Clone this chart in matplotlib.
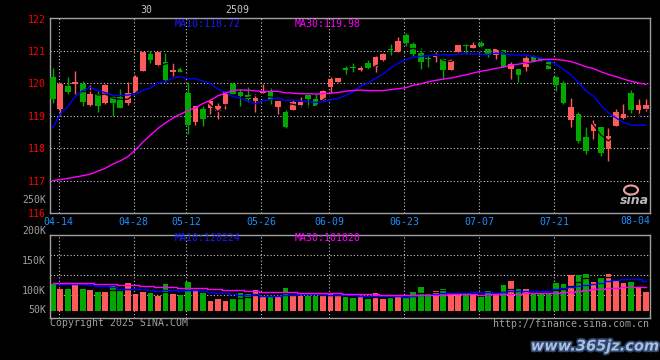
import numpy as np
import pandas as pd
import matplotlib
matplotlib.use("Agg")
import matplotlib.pyplot as plt
import matplotlib.patheffects as pe
from matplotlib.patches import Ellipse

# trading days shown on the chart
dates = (
    ["04-11", "04-14", "04-15", "04-16", "04-17", "04-18", "04-21", "04-22",
     "04-23", "04-24", "04-25", "04-28", "04-29", "04-30"]
    + ["05-06", "05-07", "05-08", "05-09", "05-12", "05-13", "05-14", "05-15",
       "05-16", "05-19", "05-20", "05-21", "05-22", "05-23", "05-26", "05-27",
       "05-28", "05-29", "05-30"]
    + ["06-03", "06-04", "06-05", "06-06", "06-09", "06-10", "06-11", "06-12",
       "06-13", "06-16", "06-17", "06-18", "06-19", "06-20", "06-23", "06-24",
       "06-25", "06-26", "06-27", "06-30"]
    + ["07-01", "07-02", "07-03", "07-04", "07-07", "07-08", "07-09", "07-10",
       "07-11", "07-14", "07-15", "07-16", "07-17", "07-18", "07-21", "07-22",
       "07-23", "07-24", "07-25", "07-28", "07-29", "07-30", "07-31"]
    + ["08-01", "08-04", "08-05", "08-06"]
)

opens = [120.21, 119.20, 119.91, 119.97, 119.99, 119.32, 119.68, 119.39, 119.58, 119.58,
         119.39, 119.71, 120.37, 120.90, 120.58, 120.67, 120.34, 120.45, 119.70, 118.81,
         119.22, 119.25, 119.14, 119.35, 119.99, 119.73, 119.63, 119.46, 119.70, 119.78,
         119.27, 119.12, 119.17, 119.32, 119.63, 119.53, 119.48, 119.88, 120.04, 120.47,
         120.51, 120.43, 120.64, 120.51, 120.73, 121.06, 120.97, 121.50, 121.22, 120.94,
         120.78, 120.83, 120.74, 120.43, 120.97, 121.18, 121.09, 121.25, 121.05, 120.88,
         121.02, 120.45, 120.45, 120.50, 120.82, 120.77, 120.66, 120.21, 120.01, 118.87,
         119.07, 118.35, 118.53, 118.66, 117.98, 118.69, 118.92, 119.70, 119.17, 119.20]
highs = [120.48, 120.00, 120.21, 120.37, 120.06, 119.94, 119.78, 119.99, 119.60, 119.83,
         120.04, 120.27, 120.98, 121.00, 120.98, 120.95, 120.62, 120.55, 120.04, 119.29,
         119.29, 119.53, 119.39, 119.78, 120.04, 119.83, 119.88, 119.68, 119.99, 119.85,
         119.46, 119.17, 119.48, 119.58, 119.68, 119.68, 119.80, 120.21, 120.17, 120.53,
         120.64, 120.54, 120.71, 120.84, 120.94, 121.22, 121.42, 121.55, 121.29, 121.09,
         120.86, 120.98, 120.76, 120.76, 121.19, 121.22, 121.29, 121.32, 121.06, 121.10,
         121.04, 120.65, 120.46, 120.85, 120.87, 120.82, 120.70, 120.24, 120.09, 119.55,
         119.12, 118.66, 118.87, 118.66, 118.61, 119.20, 119.38, 119.81, 119.51, 119.51]
lows = [119.39, 119.02, 119.68, 119.68, 119.29, 119.29, 119.12, 119.35, 118.99, 119.24,
        119.32, 119.71, 120.37, 120.62, 120.50, 120.04, 120.24, 120.34, 118.43, 118.71,
        118.68, 119.07, 118.89, 119.22, 119.68, 119.29, 119.43, 119.12, 119.70, 119.35,
        119.07, 118.61, 119.17, 119.27, 119.27, 119.29, 119.47, 119.70, 120.03, 120.29,
        120.35, 120.35, 120.46, 120.35, 120.68, 120.88, 120.96, 121.17, 120.86, 120.46,
        120.51, 120.66, 120.15, 120.42, 120.96, 120.91, 121.08, 121.14, 120.81, 120.74,
        120.50, 120.14, 120.04, 120.39, 120.65, 120.68, 120.44, 119.78, 119.35, 118.66,
        118.15, 117.82, 118.28, 117.77, 117.61, 118.68, 118.91, 119.10, 119.04, 119.14]
closes = [119.53, 119.97, 119.75, 120.04, 119.43, 119.68, 119.29, 119.94, 119.39, 119.24,
          119.70, 120.19, 120.98, 120.73, 120.98, 120.12, 120.43, 120.36, 118.71, 119.29,
          118.89, 119.45, 119.29, 119.73, 119.68, 119.60, 119.53, 119.56, 119.75, 119.48,
          119.46, 118.66, 119.43, 119.43, 119.53, 119.29, 119.78, 120.14, 120.16, 120.43,
          120.48, 120.48, 120.49, 120.81, 120.91, 121.04, 121.30, 121.24, 120.91, 120.66,
          120.75, 120.86, 120.40, 120.71, 121.19, 121.16, 121.19, 121.15, 120.88, 121.07,
          120.51, 120.60, 120.27, 120.77, 120.67, 120.71, 120.45, 119.96, 119.41, 119.27,
          118.22, 117.92, 118.76, 117.85, 118.39, 119.12, 119.05, 119.19, 119.32, 119.32]

# volume, in thousands
volumes = [117, 95, 95, 110, 95, 90, 82, 82, 108, 86,
           120, 73, 82, 77, 66, 116, 73, 70, 125, 90,
           79, 43, 52, 43, 56, 77, 73, 90, 63, 65,
           65, 99, 74, 65, 66, 66, 66, 77, 66, 60,
           57, 59, 52, 77, 52, 68, 68, 59, 82, 103,
           77, 86, 95, 77, 73, 73, 73, 60, 86, 77,
           112, 129, 95, 95, 77, 73, 77, 120, 116, 155,
           155, 159, 125, 142, 159, 133, 120, 125, 103, 82]

# moving averages before the window fills (they use older data)
ma10_head = [118.63, 119.06, 119.28, 119.60, 119.78, 119.88, 119.78, 119.72, 119.63]
ma30_head = [117.00, 117.03, 117.07, 117.11, 117.15, 117.20, 117.29, 117.38, 117.51, 117.61,
             117.74, 117.94, 118.19, 118.40, 118.61, 118.78, 118.93, 119.05, 119.16, 119.25,
             119.38, 119.48, 119.62, 119.70, 119.78, 119.80, 119.79, 119.77, 119.75]
vma10_head = [122, 116, 116, 116, 116, 110.5, 106, 106, 102]
vma30_head = [120, 120, 120, 120, 120, 120, 115, 115, 115, 110.5,
              110.5, 110.5, 106, 106, 102, 102, 102, 99, 99, 99,
              99, 93, 93, 89, 89, 89, 85, 85, 80]

grid_dates = ["04-14", "04-28", "05-12", "05-26", "06-09", "06-23", "07-07", "07-21"]
last_label = "08-04"

RED = "#ff5a5a"
GREEN = "#00a800"
GRAY = "#a0a0a0"
DATE_BLUE = "#1e8fff"

plt.rcParams["font.family"] = ["DejaVu Sans Mono"]
plt.rcParams["font.size"] = 7.1

W, H = 660, 360


def rolled(values, n, head):
    s = pd.Series(values, dtype=float).rolling(n).mean()
    s.iloc[: n - 1] = head
    return s.values


x = np.arange(len(dates))
o = np.array(opens)
c = np.array(closes)
up = c >= o
colors = np.where(up, RED, GREEN)
gx = [dates.index(d) for d in grid_dates]
xlim = (-0.36, len(dates) - 0.47)

fig = plt.figure(figsize=(W / 100, H / 100), dpi=100, facecolor="black")
ax = fig.add_axes([50 / W, 1 - 213 / H, 600 / W, 195 / H], facecolor="black")
axv = fig.add_axes([50 / W, 1 - 318 / H, 600 / W, 83 / H], facecolor="black")

# price panel
for yv in range(117, 122):
    ax.axhline(yv, color="#c8c8c8", lw=0.8, ls=(0, (1, 2)), zorder=0)
for g in gx:
    ax.axvline(g - 0.2, color="#c8c8c8", lw=0.8, ls=(0, (1, 2)), zorder=0)

ax.vlines(x, lows, highs, colors=colors, lw=1, zorder=2)
ax.bar(x, np.maximum(np.abs(c - o), 0.03), bottom=np.minimum(o, c), width=0.75,
       color=colors, lw=0, zorder=3)

ax.plot(x, pd.Series(closes).rolling(5).mean(), color="black", lw=0.9, zorder=4)
ax.plot(x, rolled(closes, 10, ma10_head), color="#0000ff", lw=1, zorder=5)
ax.plot(x, rolled(closes, 30, ma30_head), color="#ff00ff", lw=1, zorder=5)

ax.set_xlim(*xlim)
ax.set_ylim(116, 122.02)
ax.set_yticks(range(116, 123))
ax.set_yticklabels([str(v) for v in range(116, 123)], color="#ff0000")
ax.set_xticks([g - 0.2 for g in gx])
ax.set_xticklabels(grid_dates, color=DATE_BLUE)
ax.tick_params(length=0, pad=3)
ax.text(1.0, -0.016, last_label, color=DATE_BLUE, ha="right", va="top",
        transform=ax.transAxes)
for sp in ax.spines.values():
    sp.set_color(GRAY)
    sp.set_linewidth(1)

# volume panel
vol_per_px = 4.3
for yy in (255, 275, 295):
    axv.axhline((311 - yy) * vol_per_px, color="#c8c8c8", lw=0.8, ls=(0, (1, 2)), zorder=0)
for g in gx:
    axv.axvline(g - 0.2, color="#c8c8c8", lw=0.8, ls=(0, (1, 2)), zorder=0)
axv.bar(x, volumes, width=0.75, color=colors, lw=0, zorder=2)
axv.plot(x, pd.Series(volumes).rolling(5).mean(), color="black", lw=0.9, zorder=3,
         drawstyle="steps-mid")
axv.plot(x, rolled(volumes, 10, vma10_head), color="#0000ff", lw=1, zorder=4,
         drawstyle="steps-mid")
axv.plot(x, rolled(volumes, 30, vma30_head), color="#ff00ff", lw=1, zorder=4,
         drawstyle="steps-mid")
axv.set_xlim(*xlim)
axv.set_ylim(-7 * vol_per_px, 76 * vol_per_px)
axv.set_xticks([])
axv.set_yticks([])
for sp in axv.spines.values():
    sp.set_color(GRAY)
    sp.set_linewidth(1)


def ftext(px, py, s, **kw):
    fig.text(px / W, 1 - py / H, s, **kw)


for lab, py in (("250K", 200), ("200K", 231), ("150K", 261), ("100K", 291), ("50K", 310)):
    ftext(46, py, lab, color=GRAY, ha="right", va="center")

ftext(146, 10, "30", color="#c8c8c8", ha="center", va="center")
ftext(237, 10, "2509", color="#c8c8c8", ha="center", va="center")
ftext(175, 24, "MA10:118.72", color="#1a1aff", ha="left", va="center")
ftext(295, 24, "MA30:119.98", color="#ff00ff", ha="left", va="center")
ftext(175, 238, "MA10:128224", color="#1a1aff", ha="left", va="center")
ftext(295, 238, "MA30:101820", color="#ff00ff", ha="left", va="center")
ftext(50, 323, "Copyright 2025 SINA.COM", color=GRAY, ha="left", va="center")
ftext(649, 324, "http://finance.sina.com.cn", color=GRAY, ha="right", va="center")

# sina logo
fig.add_artist(Ellipse((631 / W, 1 - 190 / H), 14 / W, 9 / H, transform=fig.transFigure,
                       fill=False, ec="#f0a0a0", lw=1.5))
ftext(634, 201, "sina", color="#b8b8b8", ha="center", va="center", fontsize=9,
      style="italic", weight="bold", family="DejaVu Sans")

# watermark
ftext(595, 346, "www.365jz.com", color="#a8c0e0", ha="center", va="center", fontsize=10.5,
      style="italic", weight="bold", family="DejaVu Sans",
      path_effects=[pe.withStroke(linewidth=2.5, foreground="#30466e")])

fig.savefig("out.png", dpi=100, facecolor="black")
